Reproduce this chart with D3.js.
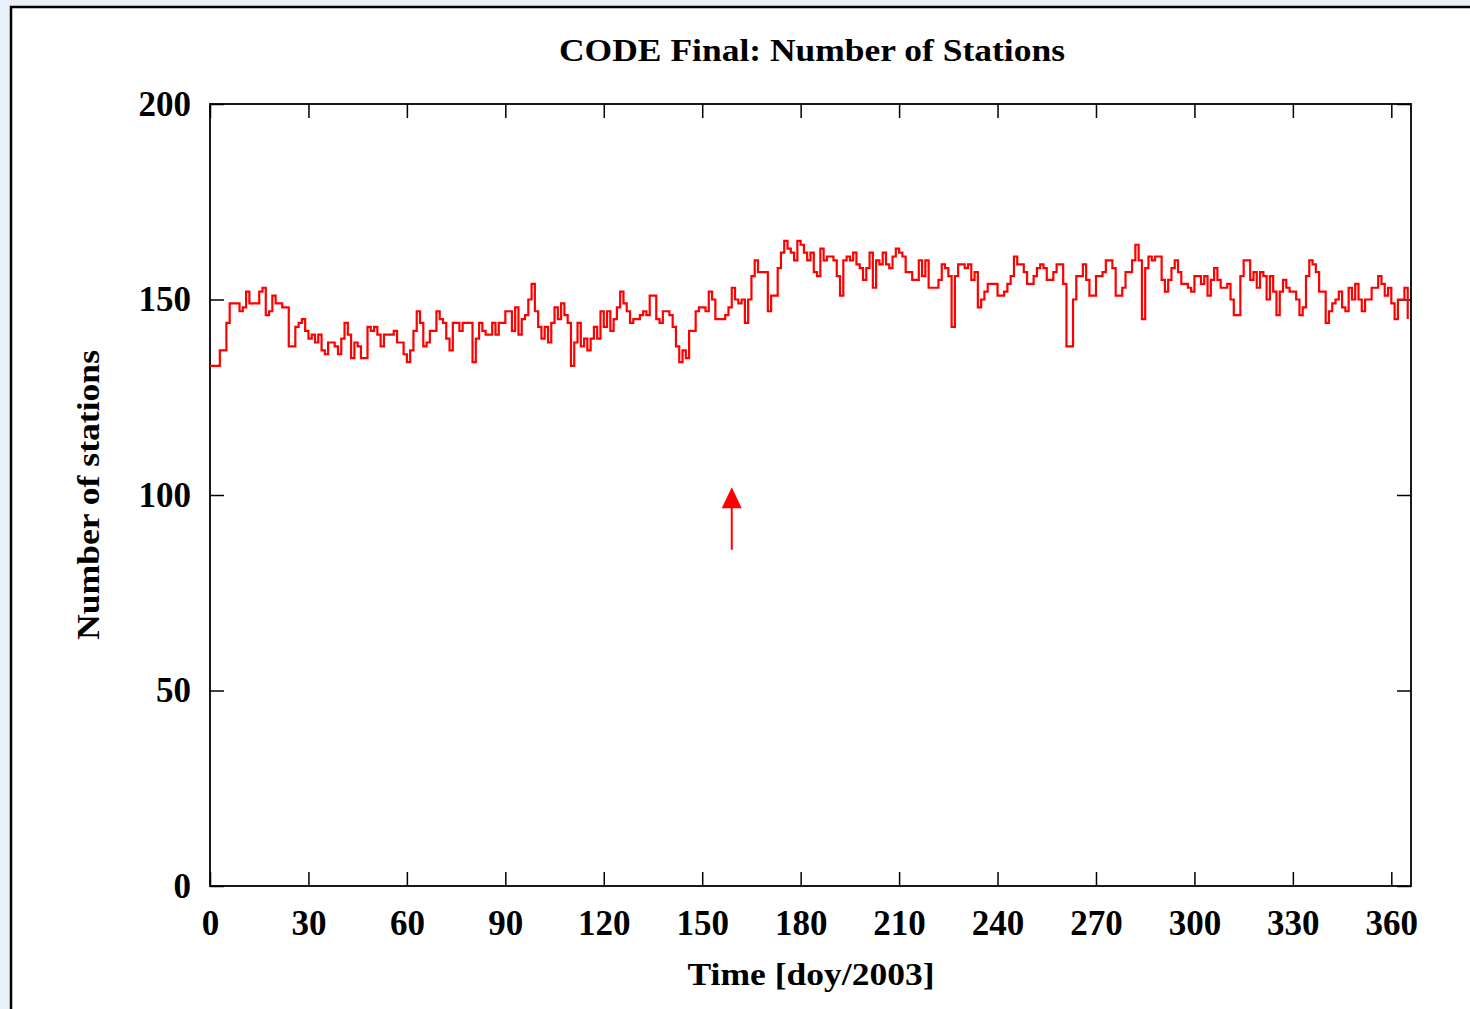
<!DOCTYPE html>
<html>
<head>
<meta charset="utf-8">
<script src="https://cdn.jsdelivr.net/npm/d3@7"></script>
<style>
  html, body { margin: 0; padding: 0; background: #e9f2fa; }
  svg { display: block; }
  text { font-family: "Liberation Serif", "DejaVu Serif", serif; font-weight: bold; fill: #000; }
</style>
</head>
<body>
<svg id="chart" width="1470" height="1009"></svg>
<script>
// ---- data ----
const title = "CODE Final: Number of Stations";
const xLabel = "Time [doy/2003]";
const yLabel = "Number of stations";
const xTicks = [0, 30, 60, 90, 120, 150, 180, 210, 240, 270, 300, 330, 360];
const yTicks = [0, 50, 100, 150, 200];
const xDomain = [0, 366];
const yDomain = [0, 200];
// number of stations per day of year (index = day)
const stations = [
133,133,133,137,137,144,149,149,149,147,148,152,149,149,149,152,153,146,147,151,149,149,148,148,138,138,143,144,145,142,140,141,
139,141,137,136,139,139,138,136,140,144,141,135,139,138,135,135,143,142,143,141,138,141,141,141,142,139,139,136,134,137,142,147,144,138,
139,142,142,147,145,144,140,137,144,144,142,144,144,144,134,140,144,142,141,141,144,141,144,144,147,147,142,148,141,145,146,150,154,147,
143,140,143,139,144,148,145,149,146,144,133,139,144,138,140,137,140,143,140,147,143,147,142,145,148,152,149,147,144,145,145,146,147,
146,151,151,145,144,147,147,146,143,138,134,137,135,142,142,147,148,148,147,152,150,145,145,145,146,148,153,150,149,150,144,150,156,
160,157,157,157,147,151,151,158,162,165,163,162,160,165,164,162,160,162,157,156,163,160,161,161,160,156,151,160,161,160,162,159,158,155,
158,162,153,160,159,162,159,158,161,163,162,161,157,157,155,155,160,156,160,153,153,153,155,159,158,156,143,156,159,159,158,159,155,
157,148,150,152,154,154,154,151,151,152,154,156,161,159,159,157,154,154,156,158,159,158,155,155,157,159,159,154,138,138,150,156,156,159,
155,151,151,156,156,157,160,160,158,151,151,153,157,157,160,164,160,145,158,161,160,161,161,155,152,155,158,160,157,154,154,153,152,156,
156,154,156,151,155,158,155,153,153,154,150,146,146,156,160,160,155,157,153,157,156,150,156,152,146,152,155,153,152,152,150,146,148,
156,160,159,157,152,152,144,147,149,150,152,148,147,153,150,154,150,147,150,150,153,153,156,154,151,153,149,145,150,150,153,145
];
const days = stations.map((_, i) => i);
const arrowDay = 159;
const arrowFrom = 86, arrowTo = 102;

// ---- drawing ----
const svg = d3.select("#chart");
const L = 210, R = 1411, T = 104, B = 886;
const x = d3.scaleLinear().domain(xDomain).range([L, R]);
const y = d3.scaleLinear().domain(yDomain).range([B, T]);

// page frame
svg.append("rect").attr("x", 11).attr("y", 7).attr("width", 1470).attr("height", 1010)
  .attr("fill", "#fff").attr("stroke", "#000").attr("stroke-width", 2.5);

// title
svg.append("text").attr("x", 812).attr("y", 61).attr("text-anchor", "middle")
  .attr("font-size", 31).attr("textLength", 506).attr("lengthAdjust", "spacingAndGlyphs").text(title);

const tick = 14;
const styleAxis = g => {
  g.select(".domain").remove();
  g.selectAll(".tick line").attr("stroke", "#000").attr("stroke-width", 1.5);
  g.selectAll(".tick text").attr("font-size", 35).attr("font-family", "Liberation Serif").attr("font-weight", "bold").attr("fill", "#000");
};
svg.append("g").attr("transform", `translate(0,${B})`)
  .call(d3.axisBottom(x).tickValues(xTicks).tickSize(-tick).tickPadding(24).tickFormat(d3.format("d")))
  .call(styleAxis);
svg.append("g").attr("transform", `translate(0,${T})`)
  .call(d3.axisTop(x).tickValues(xTicks).tickSize(-tick).tickFormat(""))
  .call(styleAxis);
svg.append("g").attr("transform", `translate(${L},0)`)
  .call(d3.axisLeft(y).tickValues(yTicks).tickSize(-tick).tickPadding(19).tickFormat(d3.format("d")))
  .call(styleAxis);
svg.append("g").attr("transform", `translate(${R},0)`)
  .call(d3.axisRight(y).tickValues(yTicks).tickSize(-tick).tickFormat(""))
  .call(styleAxis);

// plot border
svg.append("rect").attr("x", L).attr("y", T).attr("width", R - L).attr("height", B - T)
  .attr("fill", "none").attr("stroke", "#000").attr("stroke-width", 1.8);

// data line
const line = d3.line().x((d, i) => x(days[i])).y(d => y(d)).curve(d3.curveStepAfter);
svg.append("path").datum(stations).attr("d", line)
  .attr("fill", "none").attr("stroke", "#ff0000").attr("stroke-width", 2.2).attr("stroke-linejoin", "miter");

// arrow
const ax = x(arrowDay);
svg.append("line").attr("x1", ax).attr("x2", ax).attr("y1", y(arrowFrom)).attr("y2", y(arrowTo) + 18)
  .attr("stroke", "#ff0000").attr("stroke-width", 2);
svg.append("path")
  .attr("d", `M${ax},${y(arrowTo)} L${ax - 10},${y(arrowTo) + 21} L${ax + 10},${y(arrowTo) + 21} Z`)
  .attr("fill", "#ff0000");

// axis labels
svg.append("text").attr("x", 811).attr("y", 985).attr("text-anchor", "middle")
  .attr("font-size", 31).attr("textLength", 247).attr("lengthAdjust", "spacingAndGlyphs").text(xLabel);
svg.append("text").attr("transform", "translate(99,495) rotate(-90)").attr("text-anchor", "middle")
  .attr("font-size", 31).attr("textLength", 290).attr("lengthAdjust", "spacingAndGlyphs").text(yLabel);
</script>
</body>
</html>
